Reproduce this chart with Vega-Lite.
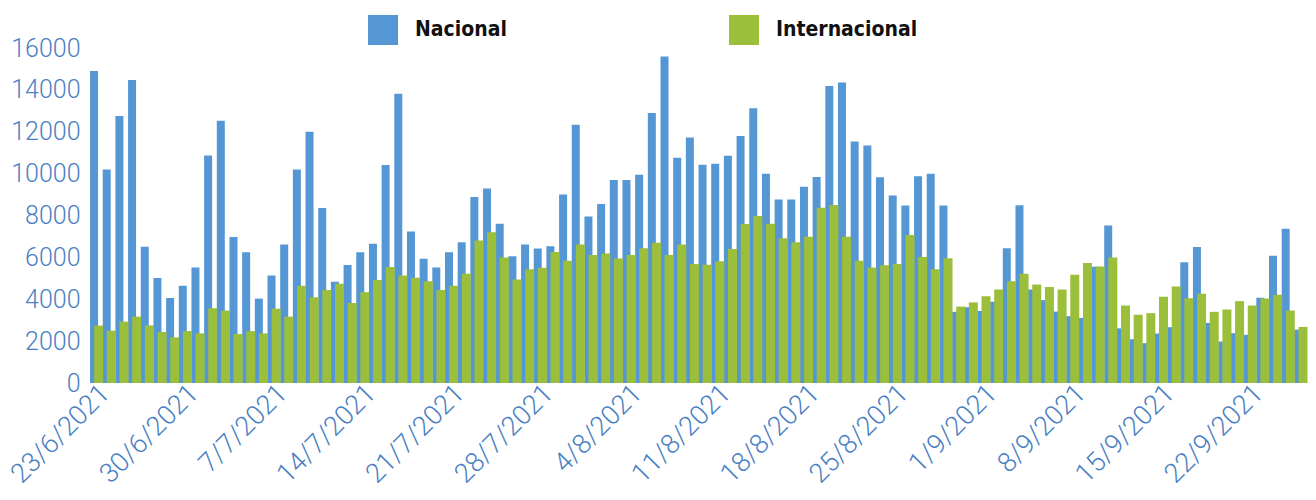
{
  "$schema": "https://vega.github.io/schema/vega-lite/v6.json",
  "width": 1217,
  "height": 335,
  "autosize": "none",
  "padding": {"left": 90, "top": 48, "right": 9, "bottom": 117},
  "background": "white",
  "config": {"view": {"stroke": null}},
  "data": {
    "values": [
      {"fecha": "23/6/2021", "Nacional": 14900, "Internacional": 2740},
      {"fecha": "24/6/2021", "Nacional": 10200, "Internacional": 2500},
      {"fecha": "25/6/2021", "Nacional": 12750, "Internacional": 2930},
      {"fecha": "26/6/2021", "Nacional": 14470, "Internacional": 3170},
      {"fecha": "27/6/2021", "Nacional": 6510, "Internacional": 2750},
      {"fecha": "28/6/2021", "Nacional": 5015, "Internacional": 2440},
      {"fecha": "29/6/2021", "Nacional": 4060, "Internacional": 2180},
      {"fecha": "30/6/2021", "Nacional": 4650, "Internacional": 2480},
      {"fecha": "1/7/2021", "Nacional": 5520, "Internacional": 2370},
      {"fecha": "2/7/2021", "Nacional": 10870, "Internacional": 3570},
      {"fecha": "3/7/2021", "Nacional": 12530, "Internacional": 3460},
      {"fecha": "4/7/2021", "Nacional": 6970, "Internacional": 2340},
      {"fecha": "5/7/2021", "Nacional": 6240, "Internacional": 2480},
      {"fecha": "6/7/2021", "Nacional": 4030, "Internacional": 2370},
      {"fecha": "7/7/2021", "Nacional": 5140, "Internacional": 3550},
      {"fecha": "8/7/2021", "Nacional": 6610, "Internacional": 3170},
      {"fecha": "9/7/2021", "Nacional": 10200, "Internacional": 4650},
      {"fecha": "10/7/2021", "Nacional": 12000, "Internacional": 4090},
      {"fecha": "11/7/2021", "Nacional": 8360, "Internacional": 4440},
      {"fecha": "12/7/2021", "Nacional": 4840, "Internacional": 4740},
      {"fecha": "13/7/2021", "Nacional": 5640, "Internacional": 3820},
      {"fecha": "14/7/2021", "Nacional": 6240, "Internacional": 4330},
      {"fecha": "15/7/2021", "Nacional": 6650, "Internacional": 4920},
      {"fecha": "16/7/2021", "Nacional": 10410, "Internacional": 5540},
      {"fecha": "17/7/2021", "Nacional": 13820, "Internacional": 5130},
      {"fecha": "18/7/2021", "Nacional": 7230, "Internacional": 5030},
      {"fecha": "19/7/2021", "Nacional": 5940, "Internacional": 4860},
      {"fecha": "20/7/2021", "Nacional": 5520, "Internacional": 4440},
      {"fecha": "21/7/2021", "Nacional": 6240, "Internacional": 4650},
      {"fecha": "22/7/2021", "Nacional": 6720, "Internacional": 5220},
      {"fecha": "23/7/2021", "Nacional": 8880, "Internacional": 6810},
      {"fecha": "24/7/2021", "Nacional": 9290, "Internacional": 7200},
      {"fecha": "25/7/2021", "Nacional": 7610, "Internacional": 5990},
      {"fecha": "26/7/2021", "Nacional": 6050, "Internacional": 4940},
      {"fecha": "27/7/2021", "Nacional": 6610, "Internacional": 5430},
      {"fecha": "28/7/2021", "Nacional": 6420, "Internacional": 5510},
      {"fecha": "29/7/2021", "Nacional": 6530, "Internacional": 6260},
      {"fecha": "30/7/2021", "Nacional": 9000, "Internacional": 5840},
      {"fecha": "31/7/2021", "Nacional": 12340, "Internacional": 6620},
      {"fecha": "1/8/2021", "Nacional": 7950, "Internacional": 6110},
      {"fecha": "2/8/2021", "Nacional": 8550, "Internacional": 6180},
      {"fecha": "3/8/2021", "Nacional": 9700, "Internacional": 5950},
      {"fecha": "4/8/2021", "Nacional": 9700, "Internacional": 6110},
      {"fecha": "5/8/2021", "Nacional": 9950, "Internacional": 6430},
      {"fecha": "6/8/2021", "Nacional": 12890, "Internacional": 6700},
      {"fecha": "7/8/2021", "Nacional": 15590, "Internacional": 6110},
      {"fecha": "8/8/2021", "Nacional": 10760, "Internacional": 6620},
      {"fecha": "9/8/2021", "Nacional": 11730, "Internacional": 5680},
      {"fecha": "10/8/2021", "Nacional": 10420, "Internacional": 5650},
      {"fecha": "11/8/2021", "Nacional": 10470, "Internacional": 5810},
      {"fecha": "12/8/2021", "Nacional": 10850, "Internacional": 6400},
      {"fecha": "13/8/2021", "Nacional": 11800, "Internacional": 7590},
      {"fecha": "14/8/2021", "Nacional": 13120, "Internacional": 7980},
      {"fecha": "15/8/2021", "Nacional": 10000, "Internacional": 7610},
      {"fecha": "16/8/2021", "Nacional": 8770, "Internacional": 6910},
      {"fecha": "17/8/2021", "Nacional": 8770, "Internacional": 6720},
      {"fecha": "18/8/2021", "Nacional": 9370, "Internacional": 6990},
      {"fecha": "19/8/2021", "Nacional": 9840, "Internacional": 8370},
      {"fecha": "20/8/2021", "Nacional": 14190, "Internacional": 8500},
      {"fecha": "21/8/2021", "Nacional": 14350, "Internacional": 6990},
      {"fecha": "22/8/2021", "Nacional": 11530, "Internacional": 5840},
      {"fecha": "23/8/2021", "Nacional": 11340, "Internacional": 5520},
      {"fecha": "24/8/2021", "Nacional": 9830, "Internacional": 5620},
      {"fecha": "25/8/2021", "Nacional": 8960, "Internacional": 5680},
      {"fecha": "26/8/2021", "Nacional": 8480, "Internacional": 7070},
      {"fecha": "27/8/2021", "Nacional": 9880, "Internacional": 6020},
      {"fecha": "28/8/2021", "Nacional": 10000, "Internacional": 5430},
      {"fecha": "29/8/2021", "Nacional": 8480, "Internacional": 5960},
      {"fecha": "30/8/2021", "Nacional": 3400, "Internacional": 3650},
      {"fecha": "31/8/2021", "Nacional": 3620, "Internacional": 3850},
      {"fecha": "1/9/2021", "Nacional": 3440, "Internacional": 4140},
      {"fecha": "2/9/2021", "Nacional": 3880, "Internacional": 4460},
      {"fecha": "3/9/2021", "Nacional": 6430, "Internacional": 4860},
      {"fecha": "4/9/2021", "Nacional": 8490, "Internacional": 5220},
      {"fecha": "5/9/2021", "Nacional": 4470, "Internacional": 4700},
      {"fecha": "6/9/2021", "Nacional": 3960, "Internacional": 4590},
      {"fecha": "7/9/2021", "Nacional": 3410, "Internacional": 4460},
      {"fecha": "8/9/2021", "Nacional": 3190, "Internacional": 5170},
      {"fecha": "9/9/2021", "Nacional": 3110, "Internacional": 5730},
      {"fecha": "10/9/2021", "Nacional": 5550, "Internacional": 5570},
      {"fecha": "11/9/2021", "Nacional": 7520, "Internacional": 6000},
      {"fecha": "12/9/2021", "Nacional": 2610, "Internacional": 3700},
      {"fecha": "13/9/2021", "Nacional": 2090, "Internacional": 3260},
      {"fecha": "14/9/2021", "Nacional": 1900, "Internacional": 3335},
      {"fecha": "15/9/2021", "Nacional": 2360, "Internacional": 4115},
      {"fecha": "16/9/2021", "Nacional": 2665, "Internacional": 4610},
      {"fecha": "17/9/2021", "Nacional": 5770, "Internacional": 4050},
      {"fecha": "18/9/2021", "Nacional": 6490, "Internacional": 4260},
      {"fecha": "19/9/2021", "Nacional": 2870, "Internacional": 3400},
      {"fecha": "20/9/2021", "Nacional": 1980, "Internacional": 3510},
      {"fecha": "21/9/2021", "Nacional": 2380, "Internacional": 3910},
      {"fecha": "22/9/2021", "Nacional": 2300, "Internacional": 3700},
      {"fecha": "23/9/2021", "Nacional": 4070, "Internacional": 4035},
      {"fecha": "24/9/2021", "Nacional": 6075, "Internacional": 4210},
      {"fecha": "25/9/2021", "Nacional": 7365, "Internacional": 3460},
      {"fecha": "26/9/2021", "Nacional": 2550, "Internacional": 2680}
    ]
  },
  "encoding": {
    "x": {
      "field": "fecha",
      "type": "ordinal",
      "sort": null,
      "scale": {"paddingInner": 0, "paddingOuter": 0},
      "axis": {
        "title": null,
        "values": ["23/6/2021", "30/6/2021", "7/7/2021", "14/7/2021", "21/7/2021", "28/7/2021", "4/8/2021", "11/8/2021", "18/8/2021", "25/8/2021", "1/9/2021", "8/9/2021", "15/9/2021", "22/9/2021"],
        "labelAngle": -45,
        "labelAlign": "right",
        "labelBaseline": "middle",
        "labelPadding": 6,
        "labelOffset": 9,
        "labelFont": "Roboto",
        "labelFontWeight": 300,
        "labelFontSize": 27,
        "labelColor": "#4a80c3",
        "ticks": false,
        "domain": false,
        "grid": false,
        "labelOverlap": false,
        "labelBound": false
      }
    }
  },
  "layer": [
    {
      "mark": {"type": "bar", "width": 8, "xOffset": -2.3},
      "encoding": {
        "y": {
          "field": "Nacional",
          "type": "quantitative",
          "scale": {"domain": [0, 16000], "nice": false},
          "axis": {
            "title": null,
            "values": [0, 2000, 4000, 6000, 8000, 10000, 12000, 14000, 16000],
            "format": "d",
            "labelFont": "Roboto",
            "labelFontWeight": 300,
            "labelFontSize": 25,
            "labelColor": "#4a80c3",
            "labelPadding": 10,
            "ticks": false,
            "domain": false,
            "grid": false
          }
        },
        "color": {
          "datum": "Nacional",
          "type": "nominal",
          "scale": {"domain": ["Nacional", "Internacional"], "range": ["#5597d4", "#9bbe3b"]},
          "legend": {
            "title": null,
            "orient": "none",
            "legendX": 278,
            "legendY": -33,
            "direction": "horizontal",
            "symbolType": "square",
            "symbolSize": 900,
            "symbolStrokeWidth": 0,
            "labelFont": "DejaVu Sans Condensed, Roboto",
            "labelFontWeight": "bold",
            "labelFontSize": 21,
            "labelLimit": 400,
            "labelColor": "#111111",
            "labelOffset": 17,
            "columnPadding": 222,
            "padding": 0
          }
        }
      }
    },
    {
      "mark": {"type": "bar", "width": 9, "xOffset": 2.3},
      "encoding": {
        "y": {"field": "Internacional", "type": "quantitative"},
        "color": {"datum": "Internacional", "type": "nominal"}
      }
    }
  ]
}
